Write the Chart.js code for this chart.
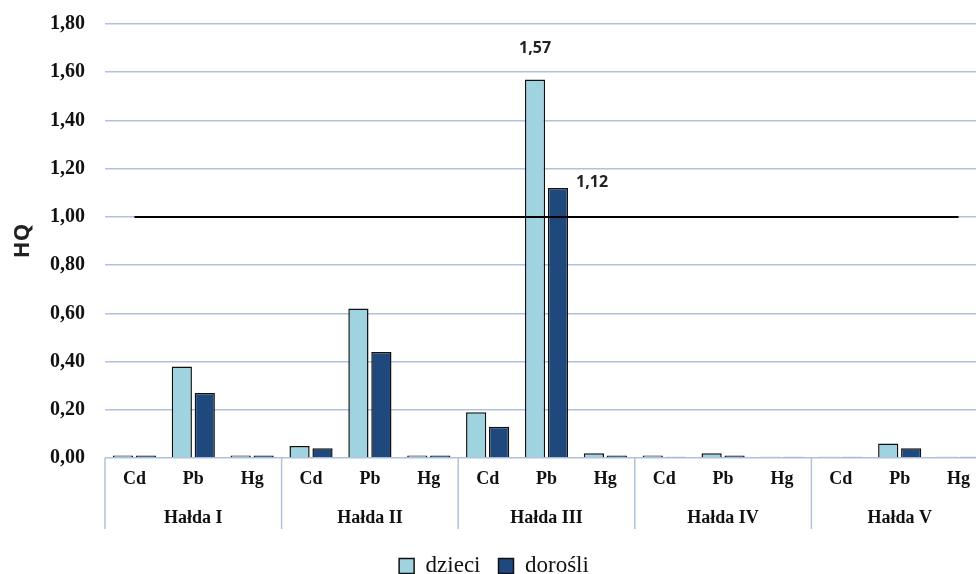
<!DOCTYPE html>
<html>
<head>
<meta charset="utf-8">
<script src="https://cdn.jsdelivr.net/npm/chart.js@4.4.0/dist/chart.umd.min.js"></script>
<style>
  html, body { margin: 0; padding: 0; background: #fff; overflow: hidden; }
  #wrap { width: 988px; height: 574px; }
</style>
</head>
<body>
<div id="wrap"><canvas id="hqChart"></canvas></div>
<script>
// HQ values for each heap (hałda) and metal
const groups = ['Hałda I', 'Hałda II', 'Hałda III', 'Hałda IV', 'Hałda V'];
const metals = ['Cd', 'Pb', 'Hg'];
// order: I Cd,Pb,Hg | II Cd,Pb,Hg | ...
const dzieci  = [0.01, 0.38, 0.01,  0.05, 0.62, 0.01,  0.19, 1.57, 0.02,  0.01, 0.02, 0.005,  0.005, 0.06, 0.005];
const dorosli = [0.01, 0.27, 0.01,  0.04, 0.44, 0.01,  0.13, 1.12, 0.01,  0.005, 0.01, 0.005,  0.005, 0.04, 0.005];
const threshold = 1.0;
const yTicks = [0, 0.2, 0.4, 0.6, 0.8, 1.0, 1.2, 1.4, 1.6, 1.8];

const categories = [];
groups.forEach(() => metals.forEach(m => categories.push(m)));

const gridBlue = '#aec2de';
const fmt = v => v.toFixed(2).replace('.', ',');

// Draws the second row of x labels (heap names) and the separators between them
const groupLabels = {
    id: 'groupLabels',
    afterDraw(chart) {
        const ctx = chart.ctx;
        const x = chart.scales.x;
        const top = chart.chartArea.bottom;
        const half = (x.getPixelForValue(1) - x.getPixelForValue(0)) / 2;
        ctx.save();
        ctx.strokeStyle = gridBlue;
        ctx.lineWidth = 1.5;
        ctx.fillStyle = '#111';
        ctx.font = 'bold 18px "Liberation Serif"';
        ctx.textAlign = 'center';
        ctx.textBaseline = 'middle';
        groups.forEach((g, i) => {
            const left = x.getPixelForValue(i * metals.length) - half;
            ctx.beginPath();
            ctx.moveTo(left, top);
            ctx.lineTo(left, top + 71);
            ctx.stroke();
            ctx.fillText(g, x.getPixelForValue(i * metals.length + 1), top + 60);
        });
        ctx.restore();
    }
};

// Value labels for bars above the threshold
const valueLabels = {
    id: 'valueLabels',
    afterDatasetsDraw(chart) {
        const ctx = chart.ctx;
        ctx.save();
        ctx.font = 'bold 16px "Open Sans"';
        ctx.fillStyle = '#222';
        [0, 1].forEach(di => {
            const meta = chart.getDatasetMeta(di);
            chart.data.datasets[di].data.forEach((v, i) => {
                if (v <= threshold) return;
                const bar = meta.data[i];
                ctx.textBaseline = 'middle';
                if (di === 0) {
                    ctx.textAlign = 'center';
                    ctx.fillText(fmt(v), bar.x, bar.y - 31);
                } else {
                    ctx.textAlign = 'left';
                    ctx.fillText(fmt(v), bar.x + bar.width / 2 + 8, bar.y - 6);
                }
            });
        });
        ctx.restore();
    }
};

document.addEventListener('DOMContentLoaded', () => {
    const ctx = document.getElementById('hqChart').getContext('2d');

    new Chart(ctx, {
        type: 'bar',
        data: {
            labels: categories,
            datasets: [
                {
                    label: 'dzieci',
                    data: dzieci,
                    backgroundColor: '#9fd3e0',
                    borderColor: '#111',
                    borderWidth: 1.5,
                    categoryPercentage: 0.78,
                    barPercentage: 0.88,
                    order: 2
                },
                {
                    label: 'dorośli',
                    data: dorosli,
                    backgroundColor: '#1f497d',
                    borderColor: '#111',
                    borderWidth: 1.5,
                    categoryPercentage: 0.78,
                    barPercentage: 0.88,
                    order: 2
                },
                {
                    type: 'line',
                    label: 'próg',
                    data: categories.map(() => threshold),
                    borderColor: '#000',
                    borderWidth: 2,
                    pointRadius: 0,
                    fill: false,
                    order: 0
                }
            ]
        },
        options: {
            responsive: true,
            maintainAspectRatio: false,
            animation: false,
            layout: { padding: { top: 0, right: 0, left: 0, bottom: -13.5 } },
            plugins: {
                legend: {
                    position: 'bottom',
                    labels: {
                        filter: item => item.datasetIndex < 2,
                        boxWidth: 15,
                        boxHeight: 15,
                        padding: 18,
                        color: '#111',
                        font: { family: '"Liberation Serif"', size: 23, lineHeight: 1 }
                    }
                },
                tooltip: { enabled: false }
            },
            scales: {
                x: {
                    grid: { display: false },
                    border: { display: false },
                    ticks: {
                        color: '#111',
                        padding: 3,
                        font: { family: '"Liberation Serif"', size: 18, weight: 'bold' }
                    },
                    afterFit: s => { s.height = 78.5; }
                },
                y: {
                    min: 0,
                    max: 1.8,
                    afterBuildTicks: s => { s.ticks = yTicks.map(v => ({ value: v })); },
                    grid: { color: gridBlue, lineWidth: 1.5, drawTicks: true, tickLength: 8, tickColor: 'rgba(0,0,0,0)' },
                    border: { display: false },
                    ticks: {
                        color: '#111',
                        padding: 12,
                        font: { family: '"Liberation Serif"', size: 20, weight: 'bold' },
                        callback: v => fmt(v)
                    },
                    title: {
                        display: true,
                        text: 'HQ',
                        color: '#222',
                        padding: { top: 10, bottom: 6 },
                        font: { family: '"Open Sans"', size: 22, weight: 'bold' }
                    },
                    afterFit: s => { s.width = 105; }
                }
            }
        },
        plugins: [groupLabels, valueLabels]
    });
});
</script>
</body>
</html>
